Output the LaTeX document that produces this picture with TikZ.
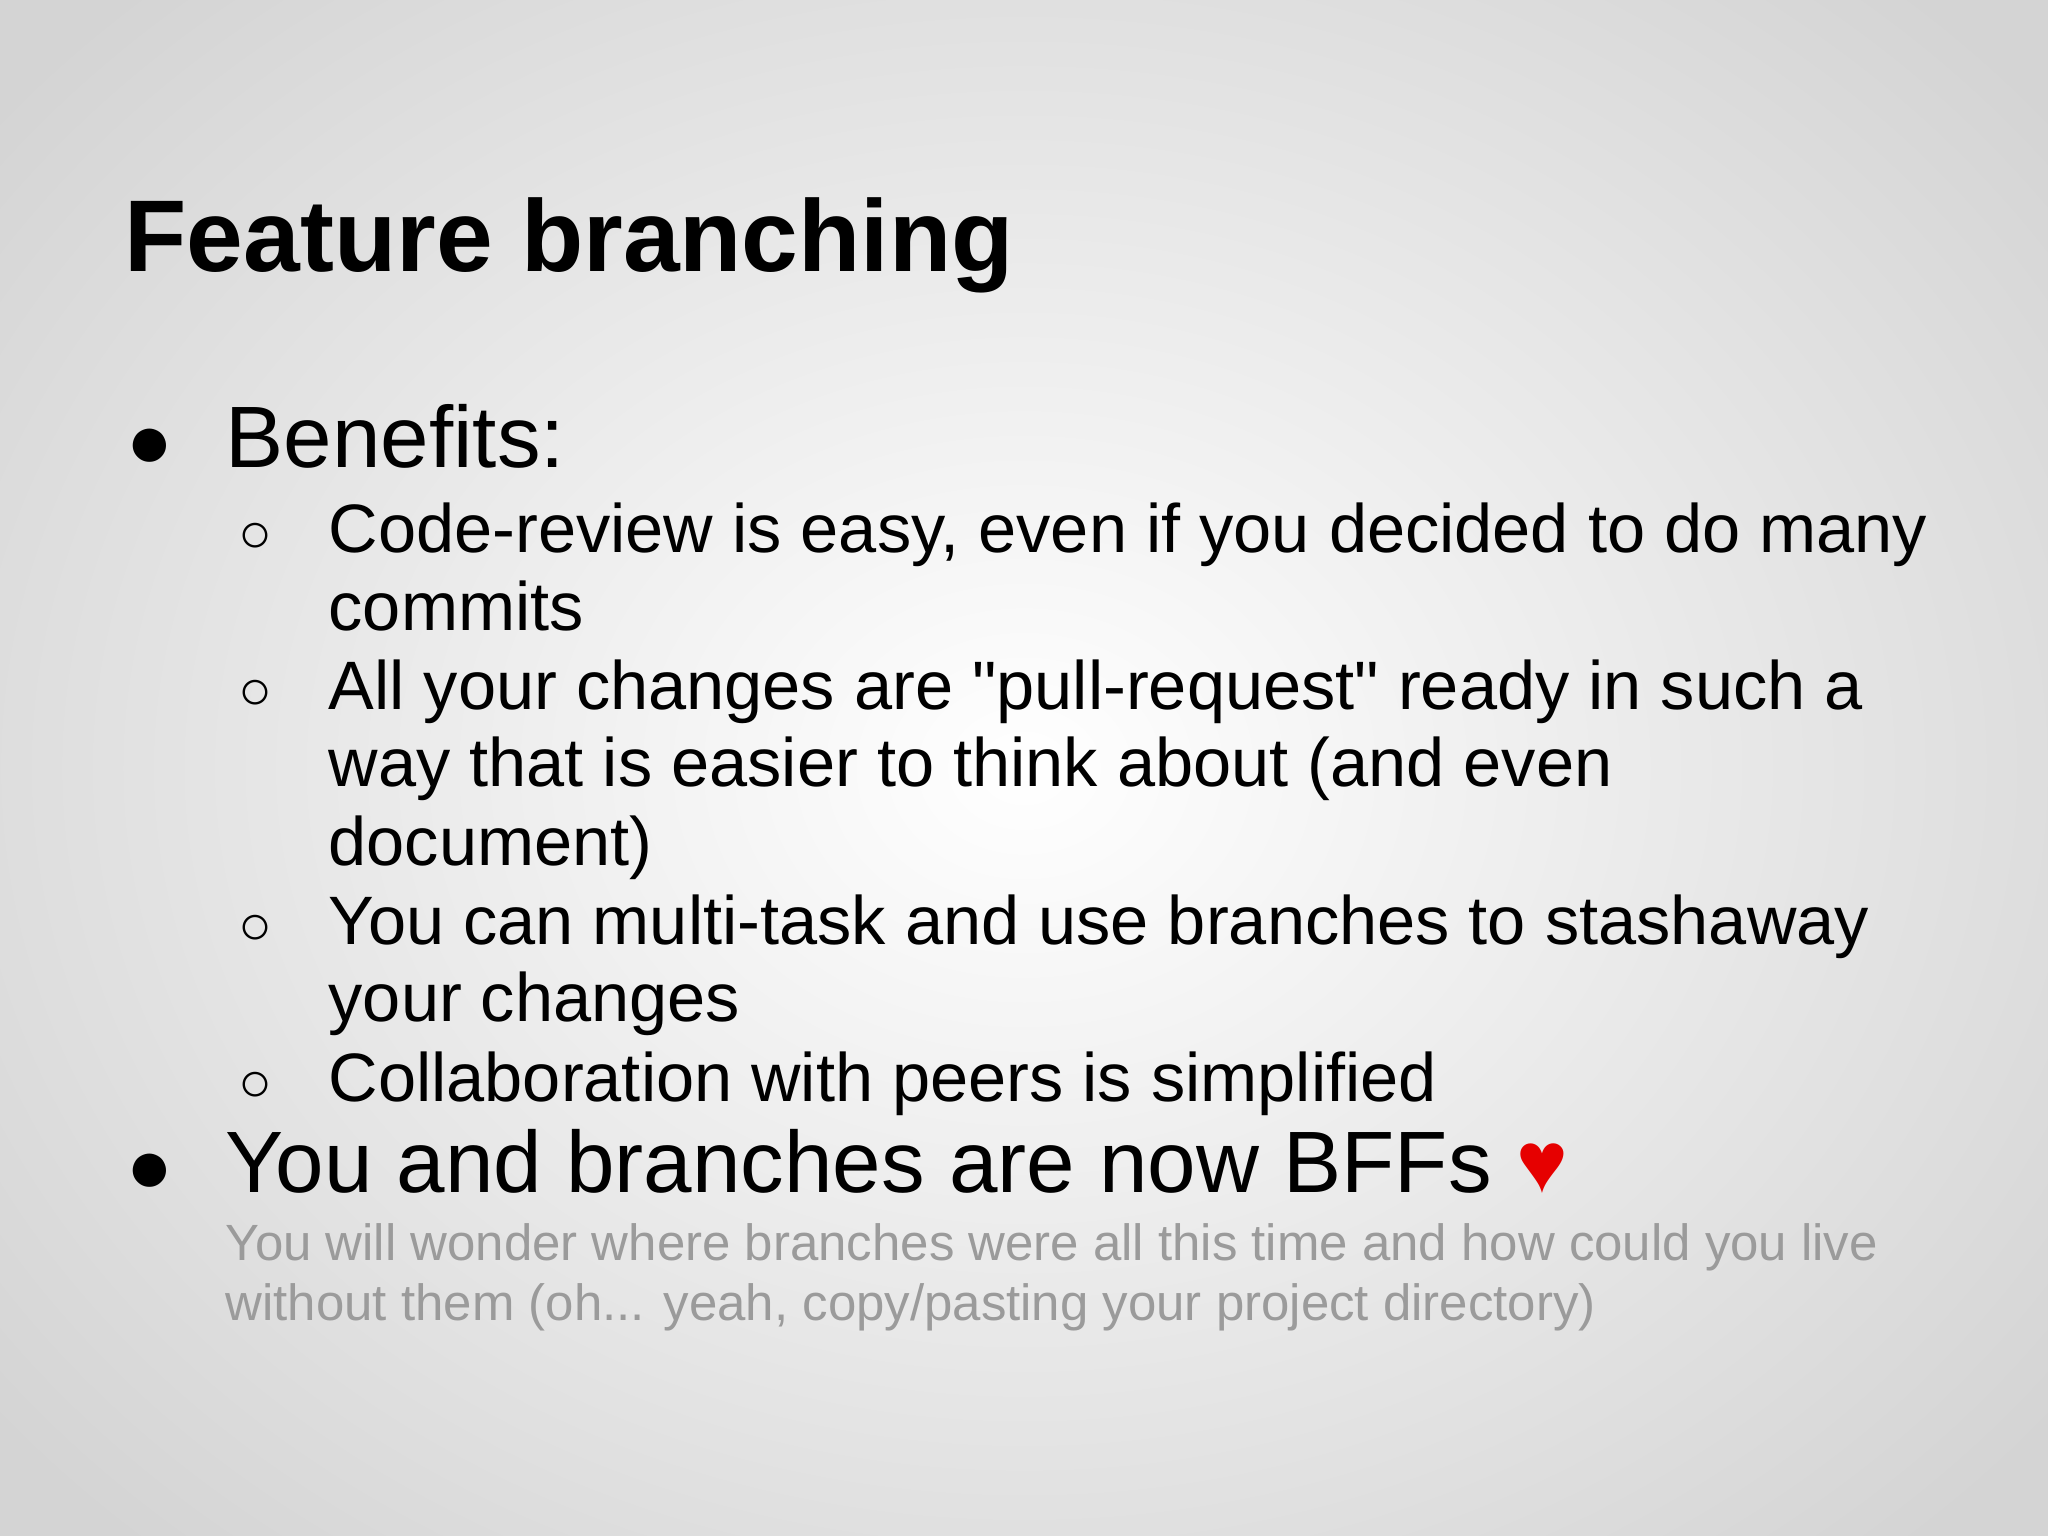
\documentclass[tikz,border=0pt]{standalone}
\usepackage{fontspec}
\setmainfont{Liberation Sans}
\definecolor{greytxt}{RGB}{155,155,155}
\definecolor{heartred}{RGB}{230,0,0}
\begin{document}
\begin{tikzpicture}[
  title/.style={anchor=base west,inner sep=0pt,font=\fontsize{29pt}{30pt}\selectfont\bfseries},
  lvlone/.style={anchor=base west,inner sep=0pt,font=\fontsize{24.8pt}{28pt}\selectfont},
  lvltwo/.style={anchor=base west,inner sep=0pt,font=\fontsize{19.5pt}{22pt}\selectfont},
  note/.style={anchor=base west,inner sep=0pt,font=\fontsize{14.5pt}{17pt}\selectfont,text=greytxt},
  dot/.style={anchor=base west,inner sep=0pt,font=\fontsize{22pt}{24pt}\selectfont},
  ring/.style={anchor=base west,inner sep=0pt,font=\fontsize{16pt}{18pt}\selectfont}]
\useasboundingbox (0,0) rectangle (20.48,-15.36);
\shade[inner color=white,outer color=black!17] (-3,3) rectangle (23.48,-18.36);
\node[title] (t) at (1.24,-2.72) {Feature branching};
\node[dot] (b1) at (1.26,-4.68) {●};
\node[lvlone] (l1) at (2.25,-4.68) {Benefits:};
\node[ring] (r1) at (2.38,-5.52) {○};
\node[lvltwo] (s1a) at (3.28,-5.52) {Code-review is easy, even if you decided to do many};
\node[lvltwo] (s1b) at (3.28,-6.31) {commits};
\node[ring] (r2) at (2.38,-7.09) {○};
\node[lvltwo] (s2a) at (3.28,-7.09) {All your changes are \textquotedbl pull-request\textquotedbl{} ready in such a};
\node[lvltwo] (s2b) at (3.28,-7.87) {way that is easier to think about (and even};
\node[lvltwo] (s2c) at (3.28,-8.66) {document)};
\node[ring] (r3) at (2.38,-9.44) {○};
\node[lvltwo] (s3a) at (3.28,-9.44) {You can multi-task and use branches to stashaway};
\node[lvltwo] (s3b) at (3.28,-10.22) {your changes};
\node[ring] (r4) at (2.38,-11.01) {○};
\node[lvltwo] (s4) at (3.28,-11.01) {Collaboration with peers is simplified};
\node[dot] (b2) at (1.26,-11.92) {●};
\node[lvlone] (l2) at (2.25,-11.92) {You and branches are now BFFs \textcolor{heartred}{♥}};
\node[note] (n1) at (2.25,-12.60) {You will wonder where branches were all this time and how could you live};
\node[note] (n2) at (2.25,-13.20) {without them (oh... yeah, copy/pasting your project directory)};
\end{tikzpicture}
\end{document}
